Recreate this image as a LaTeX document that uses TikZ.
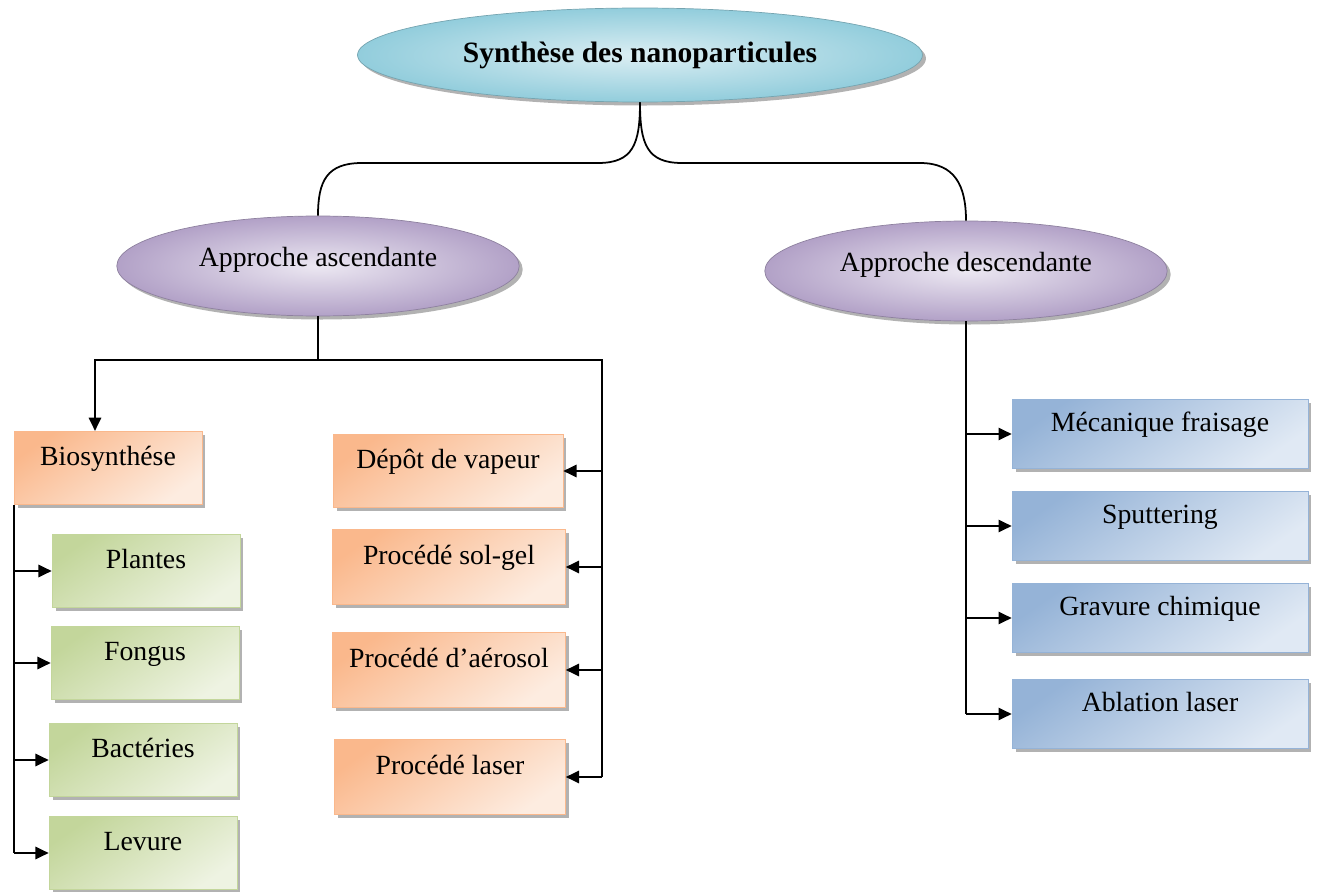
\documentclass[tikz,border=0pt]{standalone}
\usepackage{fontspec}
\setmainfont{Liberation Serif}
\usepackage{tikz}
\usetikzlibrary{shapes.geometric, arrows.meta, positioning, shadows}
\definecolor{titlecolor}{RGB}{146, 205, 220}
\definecolor{titlelight}{RGB}{219, 238, 243}
\definecolor{approachcolor}{RGB}{178, 161, 199}
\definecolor{approachlight}{RGB}{236, 232, 242}
\definecolor{orangecolor}{RGB}{250, 184, 140}
\definecolor{orangelight}{RGB}{253, 236, 224}
\definecolor{greencolor}{RGB}{195, 214, 155}
\definecolor{greenlight}{RGB}{238, 243, 226}
\definecolor{bluecolor}{RGB}{149, 179, 215}
\definecolor{bluelight}{RGB}{224, 233, 244}

\begin{document}
\begin{tikzpicture}[
    x=0.02cm, y=-0.02cm,
    txt/.style={font=\fontsize{15.8}{18}\selectfont},
    shade/.style={drop shadow={shadow xshift=2pt, shadow yshift=-2pt, fill=black, opacity=0.3}},
    title/.style={ellipse, draw=titlecolor!80!black, inner color=titlelight, outer color=titlecolor, shade, minimum width=11.3cm, minimum height=1.88cm, font=\fontsize{16.8}{20}\selectfont\bfseries},
    approach/.style={ellipse, draw=approachcolor!80!black, inner color=approachlight, outer color=approachcolor, shade, minimum width=8.05cm, minimum height=2cm, txt, text depth=0.35cm},
    box/.style={rectangle, thin, shade, minimum width=3.76cm, minimum height=1.47cm, txt, text height=0.4cm, text depth=0.5cm, inner sep=0pt},
    orangebox/.style={box, draw=orangecolor, top color=orangecolor, bottom color=orangelight, shading angle=35},
    greenbox/.style={box, draw=greencolor, top color=greencolor, bottom color=greenlight, shading angle=35},
    bluebox/.style={box, draw=bluecolor, top color=bluecolor, bottom color=bluelight, shading angle=35, minimum width=5.92cm, minimum height=1.37cm},
    link/.style={line width=1pt, black},
    arrow/.style={link, -{Triangle[length=7.5pt, width=7pt]}}
]
    \useasboundingbox (0,0) rectangle (1320,892);

    % Top and approaches
    \node[title] (top) at (640,55) {Synthèse des nanoparticules};
    \node[approach] (asc) at (318,266) {Approche ascendante};
    \node[approach] (desc) at (966,271) {Approche descendante};

    % Bottom-up methods
    \node[orangebox] (bio) at (108,468) {Biosynthése};
    \node[orangebox, minimum width=4.6cm] (vap) at (448,471) {Dépôt de vapeur};
    \node[orangebox, minimum width=4.66cm, minimum height=1.5cm] (sol) at (449,567) {Procédé sol-gel};
    \node[orangebox, minimum width=4.66cm, minimum height=1.5cm] (aer) at (449,670) {Procédé d’aérosol};
    \node[orangebox, minimum width=4.62cm, minimum height=1.5cm] (las) at (450,777) {Procédé laser};

    % Biosynthesis
    \node[greenbox] (pla) at (146,571) {Plantes};
    \node[greenbox] (fon) at (145,663) {Fongus};
    \node[greenbox] (bac) at (143,760) {Bactéries};
    \node[greenbox] (lev) at (143,853) {Levure};

    % Top-down methods
    \node[bluebox] (meca) at (1160,434) {Mécanique fraisage};
    \node[bluebox] (sput) at (1160,526) {Sputtering};
    \node[bluebox] (grav) at (1160,618) {Gravure chimique};
    \node[bluebox] (abl) at (1160,714) {Ablation laser};

    % Brace
    \coordinate (braceL) at (598,163);
    \coordinate (braceLL) at (362,163);
    \coordinate (braceR) at (682,163);
    \coordinate (braceRR) at (920,163);
    \draw[link] (top.south) .. controls +(0,42) and +(35,0) .. (braceL) -- (braceLL)
        .. controls +(-35,0) and +(0,-35) .. (asc.north);
    \draw[link] (top.south) .. controls +(0,42) and +(-35,0) .. (braceR) -- (braceRR)
        .. controls +(35,0) and +(0,-35) .. (desc.north);

    % Ascending tree
    \coordinate (ascJ) at (318,360);
    \coordinate (ascL) at (95,360);
    \coordinate (ascR) at (602,360);
    \draw[link] (asc.south) -- (ascJ);
    \draw[arrow] (ascJ) -- (ascL) -- (ascL |- bio.north);
    \draw[link] (ascJ) -- (ascR) -- (ascR |- las.east);
    \foreach \n in {vap, sol, aer, las}
        \draw[arrow] (ascR |- \n.east) -- (\n.east);

    \draw[link] (bio.south west) -- (bio.south west |- lev.west);
    \foreach \n in {pla, fon, bac, lev}
        \draw[arrow] (bio.south west |- \n.west) -- (\n.west);

    % Descending tree
    \draw[link] (desc.south) -- (desc.south |- abl.west);
    \foreach \n in {meca, sput, grav, abl}
        \draw[arrow] (desc.south |- \n.west) -- (\n.west);
\end{tikzpicture}
\end{document}
